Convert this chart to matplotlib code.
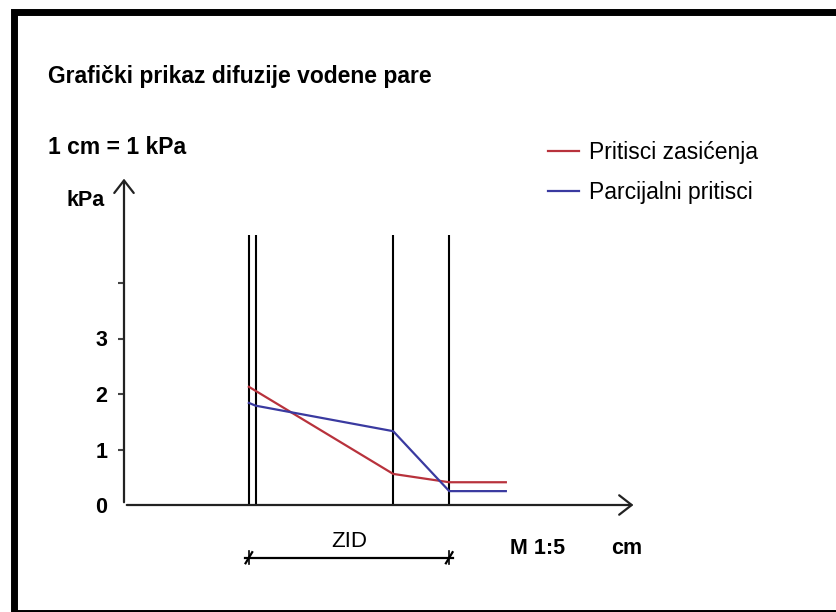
import matplotlib
matplotlib.use("Agg")
import matplotlib.pyplot as plt
from matplotlib.patches import Rectangle

plt.rcParams['font.family'] = ['Liberation Sans', 'DejaVu Sans']

# polozaji slojeva (cm u mjerilu crteza) i tlakovi (kPa)
slojevi_x = [2.25, 2.37, 4.85, 5.86]
zas_x = [2.25, 4.85, 5.86, 6.88]
zas_p = [2.13, 0.56, 0.41, 0.41]
par_x = [2.25, 2.37, 4.85, 5.86, 6.88]
par_p = [1.84, 1.79, 1.33, 0.25, 0.25]
y_ticks = [0, 1, 2, 3, 4]
y_labels = ['0', '1', '2', '3', '']

W, H = 836, 612
sc = 55.5  # px po jedinici
x0, y0 = 124, 505
xmax, ymax = 9.25, 5.95

fig = plt.figure(figsize=(W / 100, H / 100), dpi=100)
ax = fig.add_axes([x0 / W, (H - y0) / H, xmax * sc / W, ymax * sc / H])
ax.set_xlim(0, xmax)
ax.set_ylim(0, ymax)
for s in ax.spines.values():
    s.set_visible(False)
ax.patch.set_alpha(0)

# osi sa strelicama
strelica = dict(arrowstyle='->,head_length=0.9,head_width=0.7', lw=1.6, color='#222222')
ax.annotate('', xy=(xmax - 0.02, 0), xytext=(0, 0), arrowprops=strelica, annotation_clip=False)
ax.annotate('', xy=(0, ymax - 0.02), xytext=(0, 0), arrowprops=strelica, annotation_clip=False)

ax.set_xticks([])
ax.set_yticks(y_ticks)
ax.set_yticklabels(y_labels, fontsize=15.5, fontweight='bold')
ax.tick_params(axis='y', length=4, width=1.5, color='#444444', pad=8)
ax.yaxis.get_major_ticks()[0].tick1line.set_visible(False)

# granice slojeva
for xv in slojevi_x:
    ax.plot([xv, xv], [0, 4.86], color='black', lw=1.5, solid_capstyle='butt')

ax.plot(zas_x, zas_p, color='#b8323c', lw=1.6, label='Pritisci zasićenja')
ax.plot(par_x, par_p, color='#3a3aa0', lw=1.6, label='Parcijalni pritisci')

ax.legend(loc='upper left', bbox_to_anchor=(548 / W, 1 - 141 / H), bbox_transform=fig.transFigure,
          frameon=False, fontsize=16.5, handlelength=1.35, handletextpad=0.45, labelspacing=0.75,
          borderpad=0, borderaxespad=0)

# kota ZID
yz = -0.95
ax.plot([slojevi_x[0] - 0.07, slojevi_x[3] + 0.07], [yz, yz], color='black', lw=1.6, clip_on=False)
for xv in [slojevi_x[0], slojevi_x[3]]:
    ax.plot([xv - 0.06, xv + 0.06], [yz - 0.1, yz + 0.1], color='black', lw=1.6, clip_on=False)
    ax.plot([xv, xv], [yz - 0.12, yz + 0.12], color='black', lw=1.2, clip_on=False)
ax.text((slojevi_x[0] + slojevi_x[3]) / 2, yz + 0.1, 'ZID', ha='center', va='bottom', fontsize=16)

fig.text(48 / W, 1 - 76 / H, 'Grafički prikaz difuzije vodene pare', fontsize=16.5, fontweight='bold', va='center')
fig.text(48 / W, 1 - 148 / H, '1 cm = 1 kPa', fontsize=16.5, fontweight='bold', va='center')
fig.text(66 / W, 1 - 201 / H, 'kPa', fontsize=15.5, fontweight='bold', va='center')
fig.text(538 / W, 1 - 548 / H, 'M 1:5', fontsize=15.5, fontweight='bold', va='center', ha='center')
fig.text(627 / W, 1 - 548 / H, 'cm', fontsize=15.5, fontweight='bold', va='center', ha='center')

# okvir
fig.patches.append(Rectangle((13.5 / W, -0.5 / H), (W - 13.5 + 1.5) / W, (H - 12 + 0.5) / H,
                             transform=fig.transFigure, fill=False, lw=5.0, edgecolor='black'))

fig.savefig('out.png', dpi=100)
